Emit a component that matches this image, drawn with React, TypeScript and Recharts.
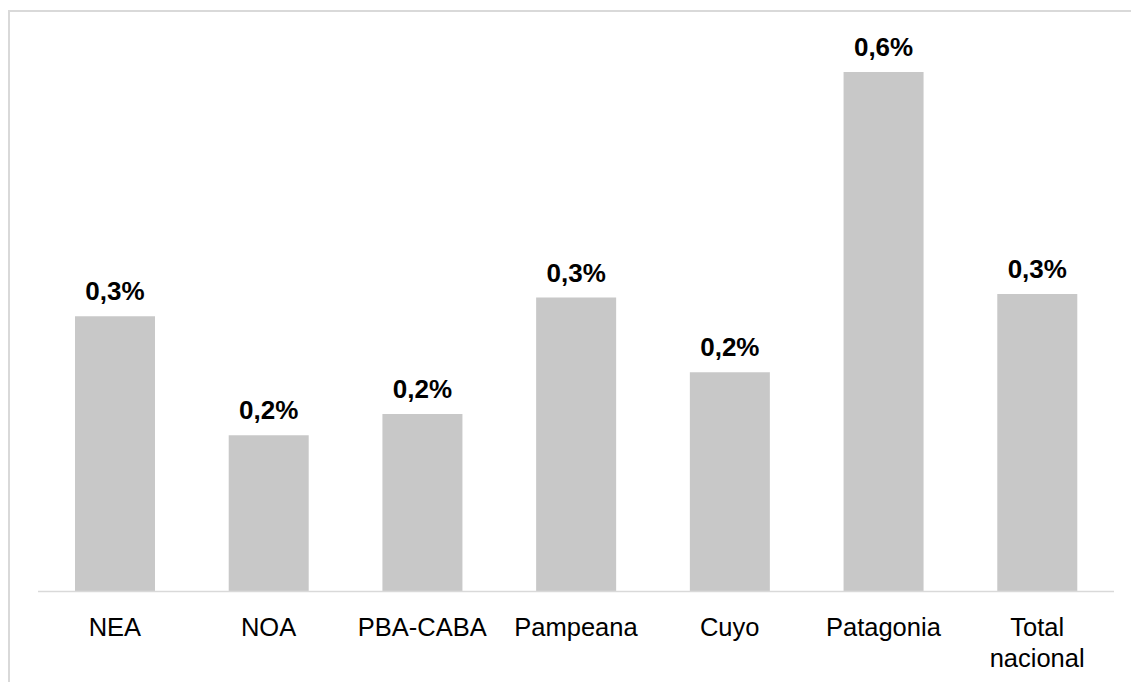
import { BarChart, Bar, XAxis, YAxis, LabelList } from "recharts"

const regiones = ["NEA", "NOA", "PBA-CABA", "Pampeana", "Cuyo", "Patagonia", "Total nacional"]
const tasas = [0.31, 0.176, 0.2, 0.331, 0.247, 0.585, 0.335]

const data = regiones.map((region, i) => ({ region, tasa: tasas[i] }))

const fmt = (v: any) => `${Number(v).toFixed(1).replace(".", ",")}%`

// etiquetas del eje X, con salto de línea en los espacios
function RegionTick({ x, y, payload }: any) {
  const lines = String(payload.value).split(" ")
  return (
    <text x={x} y={y} textAnchor="middle" fill="#000" fontSize={25.5} fontFamily="'Liberation Sans', Arial, sans-serif">
      {lines.map((line, i) => (
        <tspan key={i} x={x} dy={i === 0 ? "0.71em" : 31}>
          {line}
        </tspan>
      ))}
    </text>
  )
}

export default function App() {
  return (
    <div style={{ position: "absolute", left: 0, top: 0, width: 1131, height: 682, background: "#fff" }}>
      <div
        style={{
          position: "absolute",
          left: 8,
          top: 10,
          width: 1123,
          height: 672,
          boxSizing: "border-box",
          borderTop: "2px solid #d9d9d9",
          borderLeft: "2px solid #d9d9d9",
        }}
      />
      <div style={{ position: "absolute", left: 0, top: 0 }}>
        <BarChart
          width={1131}
          height={682}
          data={data}
          margin={{ top: 58.7, right: 17, bottom: 60.5, left: 38 }}
          barSize={80}
        >
          <XAxis
            dataKey="region"
            axisLine={{ stroke: "#d9d9d9", strokeWidth: 1.5 }}
            tickLine={false}
            tickSize={0}
            tickMargin={26}
            interval={0}
            tick={<RegionTick />}
          />
          <YAxis hide domain={[0, 0.6]} />
          <Bar dataKey="tasa" fill="#c8c8c8" isAnimationActive={false}>
            <LabelList
              dataKey="tasa"
              position="top"
              offset={16}
              formatter={fmt}
              fill="#000"
              fontSize={26}
              fontWeight="bold"
              fontFamily="'Liberation Sans', Arial, sans-serif"
            />
          </Bar>
        </BarChart>
      </div>
    </div>
  )
}
